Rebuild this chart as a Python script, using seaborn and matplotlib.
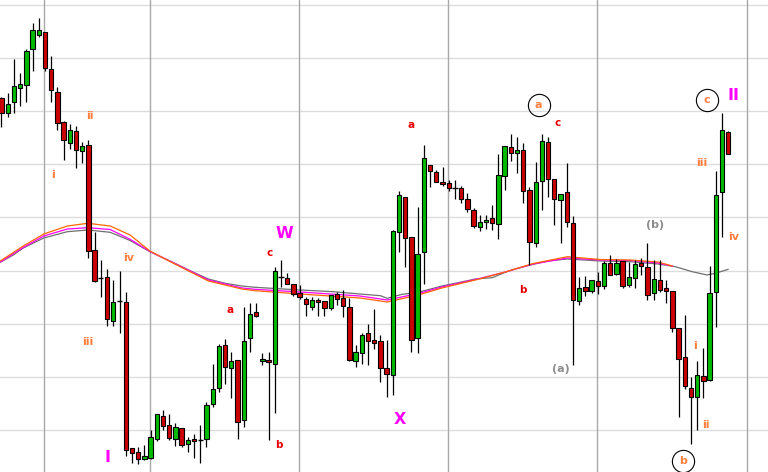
import numpy as np
import pandas as pd
import matplotlib
matplotlib.use("Agg")
import matplotlib.pyplot as plt
import seaborn as sns

# OHLC, in screen rows (0 = top edge of the picture)
open_y = [98.3, 113.3, 102.3, 88.3, 85.3, 49.3, 35.3, 32.3, 69.3, 92.3,
          122.3, 142.7, 131.3, 150.7, 145.3, 250.3, 278.3, 277.3, 320.7, 301.3,
          302.3, 448.3, 451.7, 459.3, 458.3, 438.7, 415.7, 425.3, 439.3, 428.3,
          444.3, 439, 440.3, 439.3, 404.3, 388.3, 345.3, 368.3, 360.3, 420.3,
          338.3, 312.3, 361.3, 360, 364.3, 277, 278.3, 284.3, 293, 299.3,
          307.3, 300.3, 301.3, 308.3, 294.3, 298.3, 307.3, 361.3, 353.3, 333.3,
          340.3, 341.3, 368.3, 375.3, 232.3, 197.3, 237.3, 338.3, 252.3, 165.3,
          172.3, 182.3, 183.3, 187.7, 188.3, 199.3, 210.3, 227.3, 222.3, 218.3,
          224.3, 176.3, 147.3, 153.3, 150.3, 190.3, 243.3, 181.3, 142.3, 179.3,
          200.3, 192.3, 223.3, 301.3, 287.3, 291.3, 281.3, 286.3, 263.3, 274.3,
          261.3, 285.3, 278.3, 263.3, 267.3, 293.3, 280.3, 288.3, 291.3, 328.3,
          357.3, 388.3, 397.3, 376.3, 380.3, 292.3, 192.3, 132.3]
high_y = [96.7, 93.3, 59.3, 73.3, 49.3, 23.3, 18.3, 32, 56, 87.3,
          120.7, 124, 126, 142, 140, 231.7, 260, 269, 280, 271.3,
          292.3, 448, 447.3, 445.3, 430, 414, 410, 414, 422.7, 428,
          437, 434.3, 425.3, 402, 364, 344, 339.3, 352.3, 360, 306.7,
          303.3, 303, 353.3, 351.7, 267, 260, 273.3, 284.3, 285.3, 297.3,
          297.3, 298.3, 301.3, 295.3, 292.3, 290.3, 298.3, 345.3, 333.3, 324.3,
          309.3, 335.3, 340, 230, 191, 197.3, 237.3, 207, 145, 165.3,
          170.3, 167.3, 180.3, 180, 186.3, 193.3, 208.3, 215.3, 215.3, 205.3,
          154, 146.3, 134, 137, 143.3, 187.3, 161.7, 134, 137, 179.3,
          194.3, 163.3, 216.3, 277.3, 276.3, 280.3, 272.3, 261.3, 255.3, 259.3,
          261.3, 262.3, 260.3, 258.3, 243.3, 260.3, 260.3, 280.3, 291.3, 328.3,
          315.3, 377.3, 361.3, 348.3, 266.3, 170.7, 113.3, 131.3]
low_y = [126.7, 117.3, 112.7, 105.7, 101.7, 70.7, 37.3, 70.7, 101.7, 130,
         160, 148.7, 167.7, 162.7, 257.7, 281.7, 296.7, 325.7, 325.7, 333.3,
         455.7, 463.3, 464, 460, 459, 440.7, 430, 440, 446, 446.7,
         452, 457.7, 463.3, 446.7, 407.3, 391.7, 384.3, 397.7, 439.3, 426.7,
         351.7, 317, 364.7, 440, 412.7, 287.3, 284.3, 296.3, 299.3, 315.7,
         310, 315.7, 315.7, 310.3, 305.3, 316.7, 361.3, 367.3, 364.3, 365.3,
         349.3, 381.7, 396.7, 394.7, 251.7, 266.7, 351.7, 353.3, 284.3, 186.7,
         182.3, 186.3, 191.3, 199.3, 203.3, 211.7, 227.7, 230.7, 228.7, 229.7,
         238.7, 189.7, 160.7, 173.3, 203.3, 264.7, 247.3, 210.3, 197.3, 224.7,
         242.7, 226.7, 364.7, 304.7, 296.3, 293.3, 294.3, 289.3, 275.3, 275.3,
         288.3, 287.3, 288.3, 275.3, 300.3, 300.3, 292.3, 303.3, 332.3, 417.3,
         389.3, 444.3, 430.3, 398.3, 381.3, 327.3, 237.3, 154.3]
close_y = [112.7, 104.3, 86.3, 84.3, 51.3, 30.3, 30.3, 68.3, 90.3, 123.3,
           140.3, 130.3, 149.7, 146.3, 251.3, 280.7, 278.3, 318.7, 302.3, 301.3,
           450.3, 453.3, 459.3, 456.3, 437.3, 414.3, 426.3, 438.3, 427.3, 445.3,
           440.3, 441.3, 440.3, 405.3, 389.3, 346, 367.3, 361.3, 422.3, 341.3,
           314.3, 315.7, 359.3, 362.3, 271.3, 277, 284.3, 294.3, 297.3, 304.3,
           300.3, 302.3, 308.3, 295.3, 299.3, 306.3, 360.3, 352.3, 335.3, 341.3,
           343.3, 368.3, 374.3, 231.3, 195.3, 238.3, 340.3, 254.3, 158.3, 171.3,
           182.3, 184.3, 188.3, 187.7, 199.3, 209.3, 225.7, 222.3, 220.3, 223.3,
           175.3, 146.3, 153.3, 150.3, 191.3, 242.3, 182.3, 141.3, 179.3, 199.3,
           194.3, 222.3, 300.3, 288.3, 291.3, 280.3, 286.3, 263.3, 275.3, 263.3,
           286.3, 277.3, 264.3, 266.3, 295.3, 279.3, 290.3, 291.3, 328.3, 359.3,
           386.3, 397.3, 375.3, 381.3, 293.3, 195.3, 130.3, 154.3]

# moving averages, sampled at candle positions
gray_idx = [-0.2, 1.9, 3.5, 6.8, 10.6, 13.9, 17.5, 20.7, 23.9, 27.9, 30.7, 33.3,
            36.0, 38.7, 40.8, 48.1, 53.4, 57.7, 61.0, 62.1, 64.5, 67.1, 70.9,
            73.5, 76.3, 79.0, 81.1, 83.0, 85.6, 88.3, 91.1, 96.4, 101.2, 105.7,
            108.5, 111.2, 113.6, 114.9, 117.0]
gray_y = [262.3, 255, 248, 238, 231.7, 230, 232.3, 240.5, 251.7, 263.3, 271.7, 279,
          283.3, 286, 287.3, 290, 291.7, 294, 295.7, 298.3, 294.3, 292.3, 286,
          282.7, 279, 277.7, 272.3, 268.3, 264.3, 260.7, 259, 261, 261.7, 264,
          266.7, 271.7, 275, 273.3, 269.3]
color_idx = [-0.2, 3.5, 6.8, 10.6, 13.9, 17.5, 20.7, 23.9, 27.9, 33.3, 38.7, 40.8,
             48.1, 57.7, 62.1, 67.1, 70.9, 76.3, 81.1, 85.6, 91.1, 96.4, 101.2,
             105.7, 108.0]
orange_y = [261, 246, 234, 226, 223.3, 226, 235, 251, 264, 281, 289, 290.7,
            294, 298, 302, 295, 288, 280, 272, 263.5, 256.7, 259.5, 260, 262, 266]
magenta_y = [262, 247.5, 236, 229, 227.7, 229.5, 239.3, 251.5, 263.5, 280, 288, 289.3,
             292, 296, 300, 293.5, 287, 279.5, 272, 264, 258, 260, 260.5, 263, 266]

grid_levels = [467, 414, 361, 308, 255, 201, 148, 95, 42]
period_breaks = [6.84, 23.91, 47.91, 71.9, 95.89, 120.05]

# wave labels: text, candle position, level, kind
wave_text = ["i", "ii", "iii", "iv", "I", "a", "b", "c", "W", "X", "a", "b", "c",
             "a", "(a)", "(b)", "c", "II", "iii", "iv", "i", "ii", "b"]
wave_x = [8.29, 14.25, 13.93, 20.45, 16.99, 36.8, 44.69, 43.24, 45.49, 64.17, 65.86,
          83.98, 89.61, 86.47, 90.1, 105.15, 113.53, 117.79, 112.8, 117.79, 111.67,
          113.45, 109.74]
wave_lvl = [297, 356, 130, 214, 14, 162, 27, 219, 239, 53, 347, 182, 348.5, 367,
            103, 247.5, 372, 377, 309, 235, 126, 47, 11]
wave_kind = ["minor", "minor", "minor", "minor", "major", "red", "red", "red", "major",
             "major", "red", "red", "red", "circle", "gray", "gray", "circle", "major",
             "minor", "minor", "minor", "minor", "circle"]

H = 472
o = H - np.array(open_y)
hi = H - np.array(high_y)
lo = H - np.array(low_y)
c = H - np.array(close_y)
x = np.arange(len(o))

sns.set_theme(style="white")
fig = plt.figure(figsize=(7.68, 4.72), dpi=100)
ax = fig.add_axes([0, 0, 1, 1])
ax.set_xlim(-0.24, 123.4)
ax.set_ylim(0, H)
ax.set_xticks([])
ax.set_yticks(grid_levels)
ax.tick_params(left=False, labelleft=False)
ax.grid(axis="y", color="#dcdcdc", lw=1.0)
for s in ax.spines.values():
    s.set_visible(False)
for v in period_breaks:
    ax.axvline(v, color="#a8a8a8", lw=1.0, zorder=1)

# moving averages
sns.lineplot(x=gray_idx, y=H - np.array(gray_y), color="#707070", lw=0.9, ax=ax, zorder=2)
sns.lineplot(x=color_idx, y=H - np.array(magenta_y), color="#ff00ff", lw=0.9, ax=ax, zorder=2)
sns.lineplot(x=color_idx, y=H - np.array(orange_y), color="#ff6600", lw=0.9, ax=ax, zorder=2)

# candles
ax.vlines(x, lo, hi, color="black", lw=0.9, zorder=3)
doji = np.abs(c - o) < 0.5
up = c > o
body_col = np.where(up, "#00bb00", "#cc0000")
ax.bar(x[~doji], np.abs(c - o)[~doji], bottom=np.minimum(o, c)[~doji], width=0.7,
       color=body_col[~doji], edgecolor="black", linewidth=0.8, zorder=4)
ax.hlines(o[doji], x[doji] - 0.42, x[doji] + 0.42, color="black", lw=1.0, zorder=4)

styles = {
    "minor": dict(color="#ff7f3f", size=8),
    "major": dict(color="#ff00ff", size=11.5),
    "red": dict(color="#e80000", size=7.5),
    "gray": dict(color="#8c8c8c", size=8),
    "circle": dict(color="#ff7f3f", size=8),
}
for t, wx, wl, k in zip(wave_text, wave_x, wave_lvl, wave_kind):
    st = styles[k]
    ax.text(wx, wl, t, ha="center", va="center", fontweight="bold",
            color=st["color"], fontsize=st["size"], zorder=6)
    if k == "circle":
        ax.plot(wx, wl, marker="o", ms=16, mfc="none", mec="black", mew=0.8, zorder=5)

fig.savefig("out.png", dpi=100)
